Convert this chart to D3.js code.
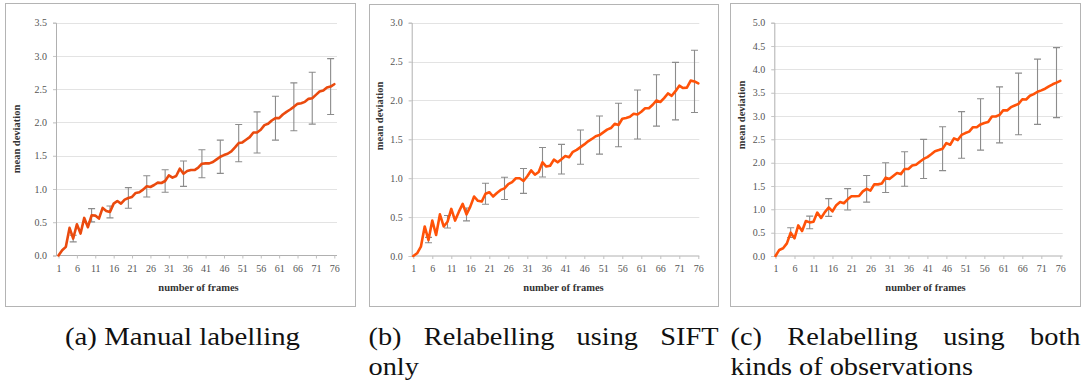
<!DOCTYPE html>
<html>
<head>
<meta charset="utf-8">
<script src="https://cdn.jsdelivr.net/npm/d3@7"></script>
<style>
  html, body { margin: 0; padding: 0; background: #fff; }
  svg { display: block; }
  .serif { font-family: "Liberation Serif", "DejaVu Serif", "Noto Serif", "Tinos", "Times New Roman", "Nimbus Roman", "FreeSerif", serif; }
</style>
</head>
<body>
<svg id="fig" width="1082" height="385"></svg>
<script>
// Frame numbers along the x axis
const frames = [1,2,3,4,5,6,7,8,9,10,11,12,13,14,15,16,17,18,19,20,21,22,23,24,25,26,27,28,29,30,
  31,32,33,34,35,36,37,38,39,40,41,42,43,44,45,46,47,48,49,50,51,52,53,54,55,56,57,58,59,60,
  61,62,63,64,65,66,67,68,69,70,71,72,73,74,75,76];
const frameTicks = [1,6,11,16,21,26,31,36,41,46,51,56,61,66,71,76];
const errorFrames = [5,10,15,20,25,30,35,40,45,50,55,60,65,70,75];

// (a) manual labelling
const manualMean = [0.0,0.08,0.13,0.415,0.255,0.47,0.33,0.565,0.425,0.605,
  0.6,0.555,0.715,0.67,0.655,0.78,0.82,0.78,0.84,0.865,
  0.88,0.94,0.95,0.99,1.04,1.03,1.06,1.095,1.09,1.12,
  1.205,1.17,1.195,1.305,1.23,1.27,1.285,1.285,1.32,1.38,
  1.385,1.385,1.405,1.445,1.485,1.51,1.53,1.565,1.625,1.69,
  1.7,1.74,1.78,1.85,1.85,1.89,1.96,1.98,2.03,2.065,
  2.065,2.12,2.16,2.195,2.235,2.28,2.29,2.31,2.355,2.365,
  2.415,2.465,2.48,2.525,2.54,2.575];
const manualErr = [0.05,0.1,0.09,0.155,0.16,0.17,0.19,0.21,0.25,0.28,0.31,0.33,0.36,0.39,0.42];
const manualTicks = [0,0.5,1,1.5,2,2.5,3,3.5];

// (b) relabelling using SIFT only
const siftMean = [0,0.035,0.12,0.38,0.205,0.455,0.27,0.535,0.38,0.44,
  0.605,0.455,0.57,0.67,0.535,0.635,0.765,0.71,0.70,0.80,
  0.82,0.765,0.81,0.85,0.87,0.925,0.95,1.0,1.0,0.965,
  1.025,1.10,1.045,1.08,1.205,1.15,1.16,1.24,1.205,1.245,
  1.285,1.27,1.34,1.365,1.40,1.435,1.475,1.505,1.54,1.555,
  1.59,1.625,1.645,1.70,1.685,1.765,1.775,1.79,1.83,1.82,
  1.855,1.90,1.90,1.945,2.0,1.98,2.03,2.09,2.06,2.12,
  2.19,2.16,2.165,2.255,2.245,2.22];
const siftErr = [0.035,0.08,0.083,0.135,0.143,0.16,0.19,0.19,0.22,0.245,0.28,0.315,0.33,0.37,0.40];
const siftTicks = [0,0.5,1,1.5,2,2.5,3];

// (c) relabelling using both kinds of observations
const bothMean = [0,0.13,0.165,0.27,0.5,0.38,0.655,0.535,0.75,0.72,
  0.735,0.93,0.815,0.94,1.04,0.955,1.09,1.155,1.13,1.215,
  1.28,1.28,1.285,1.385,1.44,1.40,1.535,1.535,1.555,1.68,
  1.65,1.715,1.78,1.755,1.865,1.865,1.94,1.955,2.02,2.08,
  2.12,2.18,2.245,2.27,2.30,2.42,2.385,2.52,2.485,2.595,
  2.635,2.665,2.76,2.76,2.82,2.85,2.87,2.99,2.99,3.025,
  3.125,3.12,3.19,3.225,3.26,3.36,3.355,3.435,3.47,3.52,
  3.55,3.585,3.635,3.68,3.715,3.755];
const bothErr = [0.105,0.135,0.19,0.23,0.285,0.32,0.37,0.42,0.47,0.5,0.55,0.6,0.66,0.7,0.75];
const bothTicks = [0,0.5,1,1.5,2,2.5,3,3.5,4,4.5,5];

const xTitle = "number of frames";
const yTitle = "mean deviation";
const captionA = ["(a) Manual labelling"];
const captionB = [["(b)", "Relabelling", "using", "SIFT"], ["only"]];
const captionC = [["(c)", "Relabelling", "using", "both"], ["kinds of observations"]];

// Panel layout
const panels = [
  { mean: manualMean, err: manualErr, yTicks: manualTicks, yMax: 3.5,
    box: [5, 3, 355, 306], axisX: [56, 337], xr: [58.5, 334.3], yr: [255.5, 22.7],
    color: "#ea4a0e", yTitlePos: [16, 139], xTitleX: 198.5 },
  { mean: siftMean, err: siftErr, yTicks: siftTicks, yMax: 3.0,
    box: [369, 4, 718, 306], axisX: [411.7, 699.3], xr: [413.3, 698.3], yr: [256, 22.7],
    color: "#ff5208", yTitlePos: [379.5, 116], xTitleX: 563.5 },
  { mean: bothMean, err: bothErr, yTicks: bothTicks, yMax: 5.0,
    box: [730, 3, 1080, 306], axisX: [774.3, 1062.7], xr: [775.5, 1060.3], yr: [256, 22.7],
    color: "#ff5208", yTitlePos: [741.5, 115], xTitleX: 925.5 }
];

const svg = d3.select("#fig");
const fmt = d3.format(".1f");

panels.forEach(p => {
  const g = svg.append("g");
  const [bx0, by0, bx1, by1] = p.box;
  g.append("rect")
    .attr("x", bx0 + 0.5).attr("y", by0 + 0.5)
    .attr("width", bx1 - bx0).attr("height", by1 - by0)
    .attr("fill", "#fff").attr("stroke", "#b4b4b4").attr("stroke-width", 1);

  const x = d3.scaleLinear().domain([1, 76]).range(p.xr);
  const y = d3.scaleLinear().domain([0, p.yMax]).range(p.yr);

  // horizontal gridlines
  g.append("g").selectAll("line").data(p.yTicks.filter(v => v > 0)).join("line")
    .attr("x1", p.axisX[0] - 3).attr("x2", p.axisX[1])
    .attr("y1", d => Math.round(y(d)) + 0.5).attr("y2", d => Math.round(y(d)) + 0.5)
    .attr("stroke", "#e3e3e3").attr("stroke-width", 1);

  // y axis
  const yAxis = d3.axisLeft(y).tickValues(p.yTicks).tickFormat(fmt).tickSize(3).tickPadding(6);
  const ya = g.append("g").attr("transform", `translate(${p.axisX[0]},0)`).call(yAxis);
  ya.attr("font-family", null);
  ya.select(".domain").attr("stroke", "#b0b0b0");
  ya.selectAll(".tick line").attr("stroke", "#c8c8c8");
  ya.selectAll("text").attr("class", "serif").attr("font-size", 10).attr("fill", "#555");

  // x axis
  const baseY = y(0);
  const xAxis = d3.axisBottom(x).tickValues(frameTicks).tickFormat(d3.format("d")).tickSize(3).tickPadding(6);
  const xa = g.append("g").attr("transform", `translate(0,${baseY})`).call(xAxis);
  xa.attr("font-family", null);
  xa.select(".domain").attr("d", `M${p.axisX[0]},0H${p.axisX[1]}`).attr("stroke", "#b0b0b0");
  xa.selectAll(".tick line").attr("stroke", "#c0c0c0");
  xa.selectAll("text").attr("class", "serif").attr("font-size", 10).attr("fill", "#555");

  // axis titles
  g.append("text").text(xTitle).attr("class", "serif")
    .attr("x", p.xTitleX).attr("y", 291)
    .attr("text-anchor", "middle")
    .attr("font-weight", "bold").attr("font-size", 10.5).attr("fill", "#333");
  g.append("text").text(yTitle).attr("class", "serif")
    .attr("transform", `translate(${p.yTitlePos[0] + 3.5},${p.yTitlePos[1]}) rotate(-90)`)
    .attr("text-anchor", "middle")
    .attr("font-weight", "bold").attr("font-size", 10.5).attr("fill", "#333");

  // error bars at every fifth frame
  const bars = errorFrames.map((f, i) => ({ f, m: p.mean[frames.indexOf(f)], e: p.err[i] }));
  const eg = g.append("g").attr("stroke", "#8c8c8c").attr("stroke-width", 1.1).attr("fill", "none");
  eg.selectAll("path").data(bars).join("path")
    .attr("d", d => {
      const cx = x(d.f), t = y(d.m + d.e), b = y(d.m - d.e);
      return `M${cx},${t}V${b}M${cx - 3.5},${t}H${cx + 3.5}M${cx - 3.5},${b}H${cx + 3.5}`;
    });

  // mean deviation line
  const line = d3.line().x((d, i) => x(frames[i])).y(d => y(d));
  g.append("path").datum(p.mean)
    .attr("d", line)
    .attr("fill", "none").attr("stroke", p.color)
    .attr("stroke-width", 2.6).attr("stroke-linejoin", "round").attr("stroke-linecap", "round");
});

// captions
const capFont = 26;
const widen = 1.09;
function word(txt, xPos, yPos, anchor) {
  const t = svg.append("text").text(txt).attr("class", "serif")
    .attr("x", xPos).attr("y", yPos)
    .attr("font-size", capFont).attr("fill", "#111")
    .attr("text-anchor", anchor || "start");
  const w = t.node().getComputedTextLength() * widen;
  t.attr("textLength", w).attr("lengthAdjust", "spacingAndGlyphs");
  return { t, w };
}
// (a) fits on one line, centred under its panel
const capA = word(captionA[0], 182.5, 345, "middle");
capA.t.attr("textLength", 235);

// (b) and (c) are justified across the column, second line flush left
function justified(lines, x0, x1) {
  const first = lines[0].map(s => word(s, 0, 345));
  const total = d3.sum(first, d => d.w);
  const gap = (x1 - x0 - total) / (first.length - 1);
  let cx = x0;
  first.forEach(d => { d.t.attr("x", cx); cx += d.w + gap; });
  lines[1].forEach(s => word(s, x0, 375));
}
justified(captionB, 368.5, 718.5);
justified(captionC, 730.5, 1080.5);
</script>
</body>
</html>
